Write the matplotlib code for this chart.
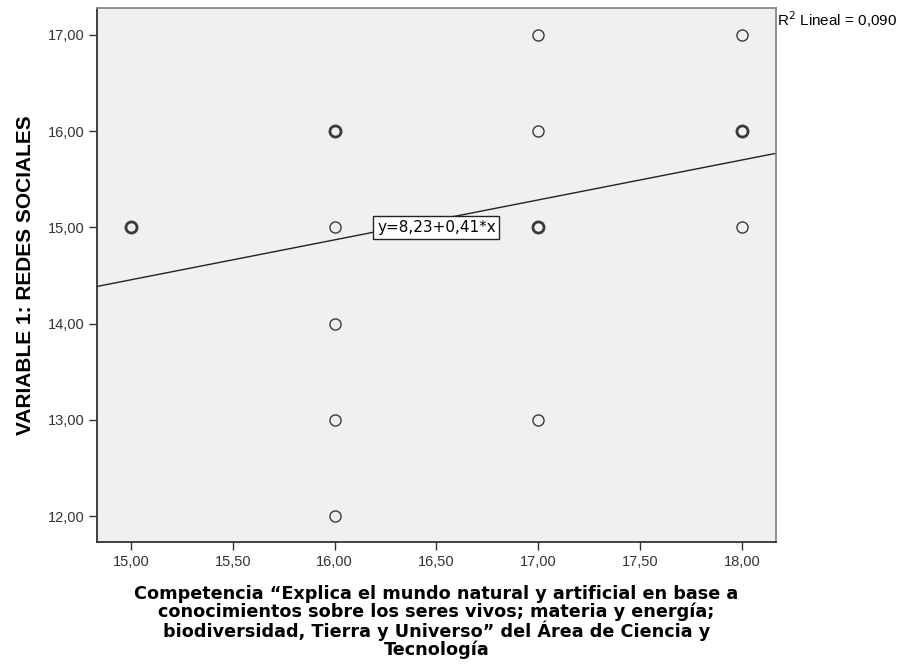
import matplotlib
matplotlib.use("Agg")
import matplotlib.pyplot as plt
import numpy as np

# scatter data (x, y, how many cases overlap at that point)
x_vals = [15, 16, 16, 16, 16, 16, 17, 17, 17, 17, 18, 18, 18]
y_vals = [15, 16, 15, 14, 13, 12, 17, 16, 15, 13, 17, 16, 15]
counts = [2, 2, 1, 1, 1, 1, 1, 1, 2, 1, 1, 2, 1]

intercept = 8.23
slope = 0.415
fit_label = "y=8,23+0,41*x"
r2_label = "R$^2$ Lineal = 0,090"

x_ticks = [15.0, 15.5, 16.0, 16.5, 17.0, 17.5, 18.0]
y_ticks = [12.0, 13.0, 14.0, 15.0, 16.0, 17.0]


def fmt(v):
    return f"{v:.2f}".replace(".", ",")


plt.rcParams['font.family'] = ['Liberation Sans', 'DejaVu Sans']

fig = plt.figure(figsize=(8.97, 6.64), dpi=100)
ax = fig.add_axes([0.108, 0.1837, 0.757, 0.8043])
ax.set_facecolor("#f0f0f0")

xlim = (14.833, 18.167)
ylim = (11.73, 17.28)
ax.set_xlim(*xlim)
ax.set_ylim(*ylim)

# regression line across the whole plot
xs = np.array(xlim)
ax.plot(xs, intercept + slope * xs, color="#222222", linewidth=1.0, zorder=2)

for xv, yv, c in zip(x_vals, y_vals, counts):
    ax.plot(xv, yv, marker="o", markersize=8, markerfacecolor="none",
            markeredgecolor="#3a3a3a", markeredgewidth=1.0 if c == 1 else 2.0,
            linestyle="none", zorder=3)

ax.text(16.5, 15.0, fit_label, fontsize=11, family="DejaVu Sans",
        ha="center", va="center", zorder=4,
        bbox=dict(boxstyle="square,pad=0.24", facecolor="white",
                  edgecolor="#222222", linewidth=1.0))

ax.text(1.002, 0.9775, r2_label, transform=ax.transAxes, fontsize=11,
        ha="left", va="center")

ax.set_xticks(x_ticks)
ax.set_xticklabels([fmt(v) for v in x_ticks])
ax.set_yticks(y_ticks)
ax.set_yticklabels([fmt(v) for v in y_ticks])
ax.tick_params(direction="out", length=6, width=1.0, colors="#333333",
               labelsize=10.5, labelcolor="#333333", pad=3)

for side in ["left", "bottom"]:
    ax.spines[side].set_color("#333333")
    ax.spines[side].set_linewidth(1.3)
for side in ["top", "right"]:
    ax.spines[side].set_color("#888888")
    ax.spines[side].set_linewidth(1.3)

ax.set_ylabel("VARIABLE 1: REDES SOCIALES", fontsize=15, fontweight="bold",
              labelpad=9)
ax.set_xlabel("Competencia “Explica el mundo natural y artificial en base a\n"
              "conocimientos sobre los seres vivos; materia y energía;\n"
              "biodiversidad, Tierra y Universo” del Área de Ciencia y\n"
              "Tecnología",
              fontsize=12.7, fontweight="bold", family="DejaVu Sans",
              linespacing=0.97, labelpad=12)

fig.savefig("out.png", dpi=100)
